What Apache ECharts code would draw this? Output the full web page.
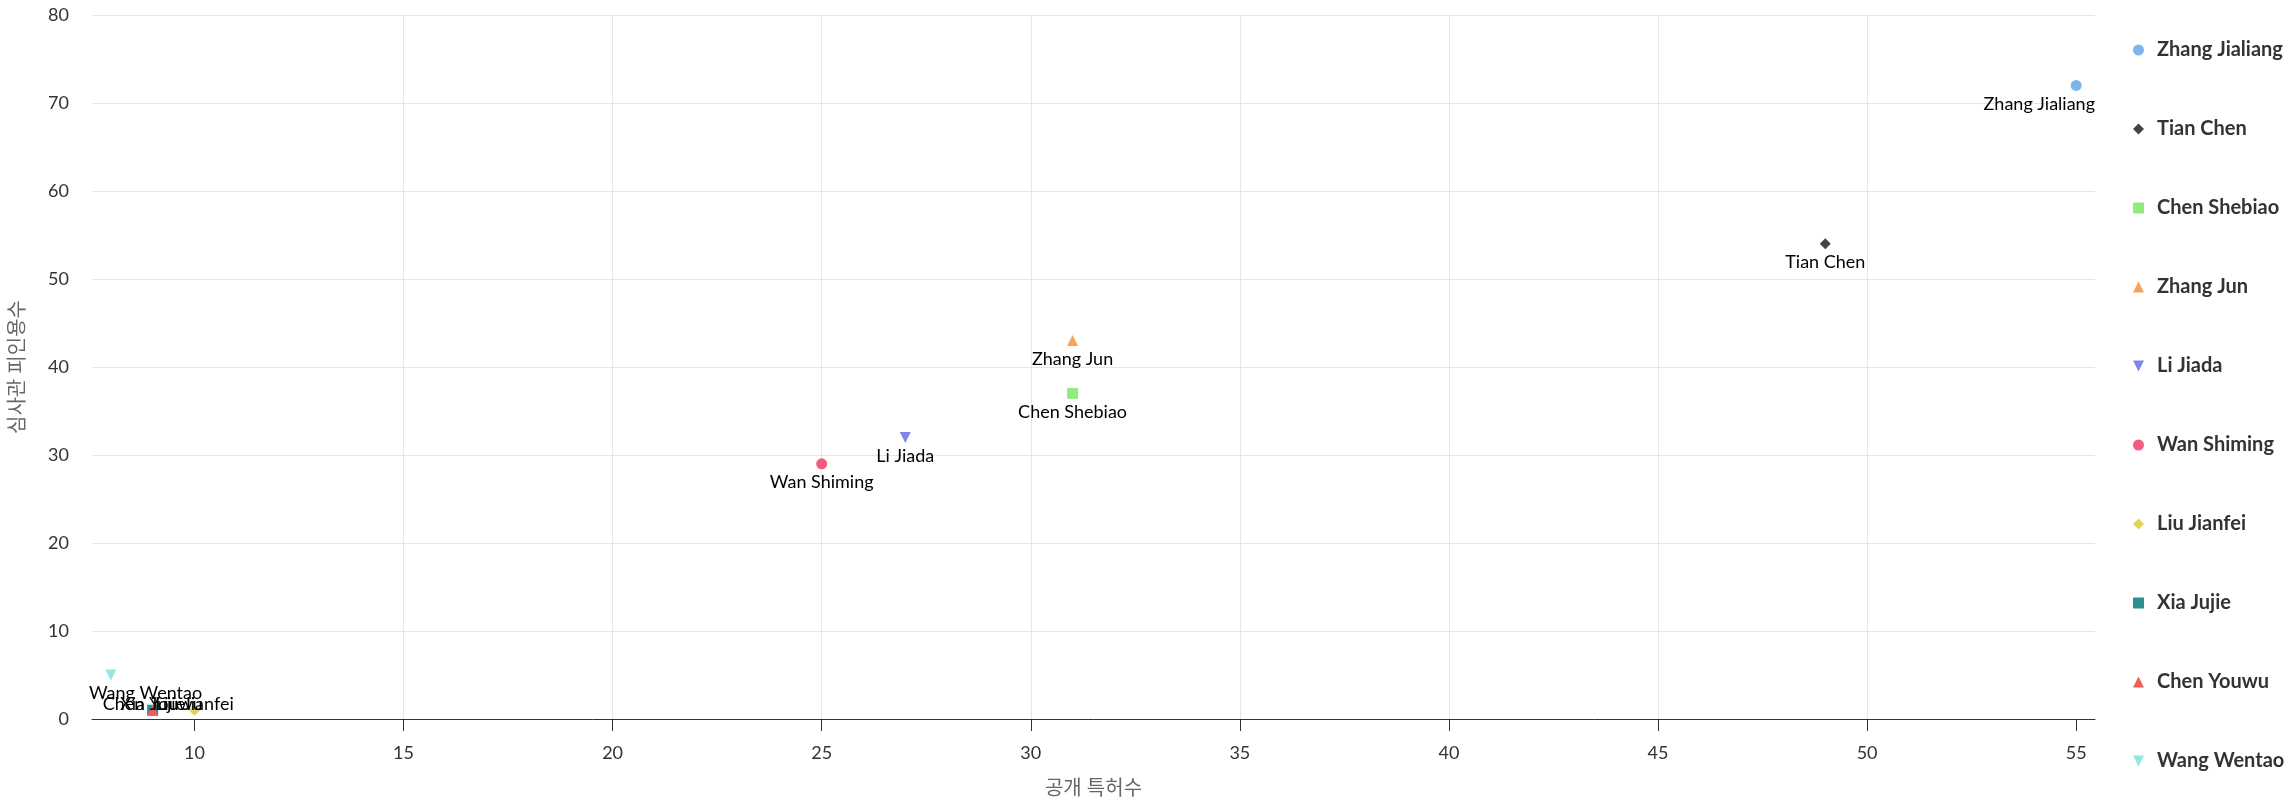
<!DOCTYPE html>
<html>
<head>
<meta charset="utf-8">
<script src="https://cdn.jsdelivr.net/npm/echarts@6/dist/echarts.min.js"></script>
<style>
html,body{margin:0;padding:0;background:#fff;}
#chart{width:2294px;height:805px;}
</style>
</head>
<body>
<div id="chart"></div>
<script>
// ---- data ----
const names = ['Zhang Jialiang','Tian Chen','Chen Shebiao','Zhang Jun','Li Jiada','Wan Shiming','Liu Jianfei','Xia Jujie','Chen Youwu','Wang Wentao'];
const patents = [55, 49, 31, 31, 27, 25, 10, 9, 9, 8];
const citations = [72, 54, 37, 43, 32, 29, 1, 1, 1, 5];
const xTickValues = [10, 15, 20, 25, 30, 35, 40, 45, 50, 55];
const xAxisName = '공개 특허수';
const yAxisName = '심사관 피인용수';

// ---- styles ----
const colors = ['#7cb5ec','#434348','#90ed7d','#f7a35c','#8085e9','#f15c80','#e4d354','#2b908f','#f45b5b','#91e8e1'];
const symbols = ['circle','diamond','rect','triangle','path://M0,0 L10,0 L5,10 Z'];
const FONT = 'Lato, "Noto Sans CJK KR", sans-serif';
const GRID = {left: 89, right: 199, top: 15, bottom: 86};
const W = 2294, H = 805;
const gridL = GRID.left, gridR = W - GRID.right, gridT = GRID.top, gridB = H - GRID.bottom;

const chart = echarts.init(document.getElementById('chart'), null, {renderer: 'canvas'});

const series = names.map((n, i) => ({
  name: n,
  type: 'scatter',
  data: [[patents[i], citations[i], n]],
  symbol: symbols[i % symbols.length],
  symbolSize: 11,
  symbolKeepAspect: true,
  itemStyle: {color: colors[i], opacity: 1},
  z: 3,
  label: {
    show: true,
    position: 'bottom',
    distance: 4,
    formatter: p => p.data[2],
    color: '#000',
    fontSize: 18,
    fontFamily: FONT
  },
  labelLayout: function (params) {
    const r = params.labelRect;
    let dx = 0, dy = 0;
    if (r.x < gridL) dx = gridL - r.x;
    else if (r.x + r.width > gridR) dx = gridR - (r.x + r.width);
    if (r.y + r.height > gridB - 6) dy = (gridB - 6) - (r.y + r.height);
    return {dx: dx, dy: dy};
  },
  emphasis: {disabled: true}
}));

const option = {
  animation: false,
  backgroundColor: '#fff',
  color: colors,
  grid: GRID,
  legend: {
    orient: 'vertical',
    left: 2133,
    top: 40,
    padding: 0,
    itemWidth: 11,
    itemHeight: 11,
    itemGap: 59,
    textStyle: {fontFamily: FONT, fontSize: 20, color: '#333', fontWeight: 'bold', padding: [0, 0, 0, 8]},
    data: names
  },
  xAxis: {
    type: 'value',
    min: 7.55,
    max: 55.45,
    name: xAxisName,
    nameLocation: 'middle',
    nameGap: 60,
    nameTextStyle: {fontFamily: FONT, fontSize: 20, color: '#666'},
    axisLine: {show: true, onZero: false, lineStyle: {color: '#333', width: 1}},
    axisTick: {show: true, length: 12, customValues: xTickValues, lineStyle: {color: '#333'}},
    axisLabel: {customValues: xTickValues, margin: 25, fontFamily: FONT, fontSize: 18, color: '#333'},
    splitLine: {show: true, showMinLine: false, showMaxLine: false, lineStyle: {color: '#e6e6e6'}}
  },
  yAxis: {
    type: 'value',
    min: 0,
    max: 80,
    interval: 10,
    name: yAxisName,
    nameLocation: 'middle',
    nameGap: 64,
    nameTextStyle: {fontFamily: FONT, fontSize: 20, color: '#666'},
    axisLine: {show: false},
    axisTick: {show: false},
    axisLabel: {margin: 23, fontFamily: FONT, fontSize: 18, color: '#333'},
    splitLine: {show: true, lineStyle: {color: '#e6e6e6'}}
  },
  series: series
};
chart.setOption(option);
</script>
</body>
</html>
